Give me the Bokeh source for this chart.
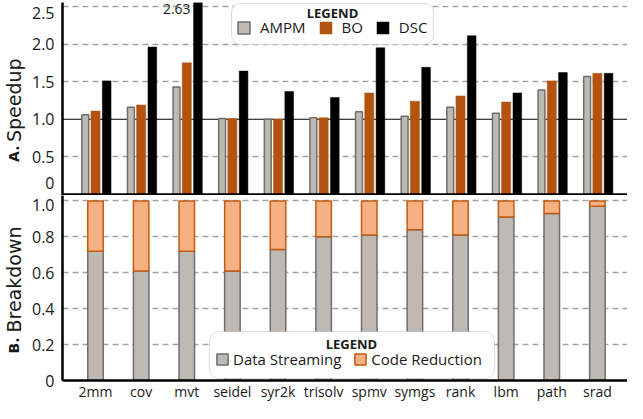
import numpy as np
from math import pi
from bokeh.plotting import figure
from bokeh.models import (ColumnDataSource, FixedTicker, CustomJSTickFormatter, Span, Label,
                          Legend, LegendItem, BoxAnnotation, Range1d)
from bokeh.layouts import column, row
from bokeh.embed import file_html
from bokeh.resources import INLINE
from bokeh.core.properties import value

# ---------------- data ----------------
categories = ["2mm", "cov", "mvt", "seidel", "syr2k", "trisolv", "spmv", "symgs", "rank", "lbm", "path", "srad"]
ampm = [1.06, 1.16, 1.43, 1.01, 1.00, 1.02, 1.10, 1.04, 1.16, 1.08, 1.39, 1.57]
bo = [1.11, 1.19, 1.75, 1.01, 1.00, 1.02, 1.35, 1.24, 1.31, 1.23, 1.51, 1.61]
dsc = [1.51, 1.96, 2.63, 1.64, 1.37, 1.29, 1.95, 1.69, 2.11, 1.35, 1.62, 1.61]
data_streaming = [0.72, 0.61, 0.72, 0.61, 0.73, 0.80, 0.81, 0.84, 0.81, 0.91, 0.93, 0.97]
code_reduction = [0.28, 0.39, 0.28, 0.39, 0.27, 0.20, 0.19, 0.16, 0.19, 0.09, 0.07, 0.03]
speedup_ticks = [0, 0.5, 1.0, 1.5, 2.0, 2.5]
speedup_tick_labels = ["0", "0.5", "1.0", "1.5", "2.0", "2.5"]
breakdown_ticks = [0, 0.2, 0.4, 0.6, 0.8, 1.0]
breakdown_tick_labels = ["0", "0.2", "0.4", "0.6", "0.8", "1.0"]

# ---------------- style ----------------
FONT = "Open Sans"
LFONT = "DejaVu Sans"
GRAY = "#bfb9b4"
GRAY_LINE = "#6e6e6e"
BO_C = "#b4530f"
DSC_C = "#000000"
CR_FILL = "#f4b183"
CR_LINE = "#c55a11"
GRID = "#a3a3a3"
TXT = "#1a1a1a"

n = len(categories)
idx = np.arange(n)
XR = (-0.724, 11.66)
TOP_MAX = 2.552
BOT_MAX = 1.03
TW = 28          # width of the strip holding the vertical panel titles
W = 627 - TW
BL = 34          # left border (tick labels) of each panel


def make_formatter(pos, labels):
    return CustomJSTickFormatter(args=dict(pos=pos, lab=labels), code="""
        for (let i = 0; i < pos.length; i++) {
            if (Math.abs(tick - pos[i]) < 1e-6) return lab[i];
        }
        return '';
    """)


def style_y(p, label_pos, labels, grid_ticks):
    ax = p.yaxis[0]
    ax.ticker = FixedTicker(ticks=label_pos)
    ax.formatter = make_formatter(label_pos, labels)
    ax.axis_line_width = 2.5
    ax.axis_line_color = "black"
    ax.major_tick_out = 0
    ax.major_tick_in = 0
    ax.minor_tick_out = 0
    ax.minor_tick_in = 0
    ax.major_label_standoff = 8
    ax.major_label_text_font = FONT
    ax.major_label_text_font_size = "16px"
    ax.major_label_text_color = TXT
    p.ygrid.ticker = FixedTicker(ticks=grid_ticks)
    p.ygrid.grid_line_color = GRID
    p.ygrid.grid_line_dash = "6 4"
    p.ygrid.grid_line_width = 1.5
    p.xgrid.visible = False
    p.outline_line_color = None


# ---------------- top panel: speedup ----------------
p1 = figure(width=W, height=195, x_range=Range1d(*XR), y_range=Range1d(-0.0133, TOP_MAX),
            output_backend="svg", toolbar_location=None, x_axis_location=None,
            min_border_left=BL, min_border_right=0, min_border_top=2, min_border_bottom=0)
# the end labels sit just inside the panel, as in the original chart
top_label_pos = [t + (0.15 if t == speedup_ticks[0] else 0) - (0.093 if t == speedup_ticks[-1] else 0)
                 for t in speedup_ticks]
style_y(p1, top_label_pos, speedup_tick_labels, [t for t in speedup_ticks if t not in (0, 1.0)])
p1.add_layout(Span(location=1.0, dimension="width", line_color="black", line_width=1, level="underlay"))

src1 = ColumnDataSource(dict(x_a=idx - 0.225, x_b=idx + 0.0, x_d=idx + 0.245, ampm=ampm, bo=bo, dsc=dsc))
r_a = p1.vbar(x="x_a", top="ampm", bottom=0, width=0.15, fill_color=GRAY, line_color=GRAY_LINE,
              line_width=1.5, source=src1)
r_b = p1.vbar(x="x_b", top="bo", bottom=0, width=0.2, fill_color=BO_C, line_color=BO_C,
              line_width=0.5, source=src1)
r_d = p1.vbar(x="x_d", top="dsc", bottom=0, width=0.19, fill_color=DSC_C, line_color=DSC_C,
              line_width=0.5, source=src1)
p1.add_layout(Span(location=0, dimension="width", line_color="black", line_width=2.5))

# value labels for bars clipped by the axis range
clip_x = [i + 0.245 - 0.095 for i, v in enumerate(dsc) if v > TOP_MAX]
clip_t = [f"{v:.2f}" for v in dsc if v > TOP_MAX]
p1.text(x=clip_x, y=[TOP_MAX] * len(clip_x), text=clip_t, text_align="right", text_baseline="top",
        x_offset=-3, y_offset=1, text_font=value(FONT), text_font_size="14px", text_color=TXT)

# legend (top)
p1.add_layout(BoxAnnotation(left=2.98, right=7.408, top=TOP_MAX - 0.012, bottom=1.995,
                            fill_color="white", fill_alpha=1, line_color="#8a8a8a", line_width=1,
                            border_radius=9))
leg1 = Legend(items=[LegendItem(label="AMPM", renderers=[r_a]),
                     LegendItem(label="BO", renderers=[r_b]),
                     LegendItem(label="DSC", renderers=[r_d])],
              location=(174, 158), orientation="horizontal", padding=0, margin=0, spacing=12,
              glyph_width=15, glyph_height=15, label_height=15, label_standoff=9,
              label_text_font=FONT, label_text_font_size="15px", label_text_color=TXT,
              border_line_alpha=0, background_fill_alpha=0)
p1.add_layout(leg1)
p1.add_layout(Label(x=5.194, y=2.406, text="LEGEND", text_align="center", text_baseline="middle",
                    text_font=FONT, text_font_size="13px", text_font_style="bold", text_color=TXT))

# ---------------- bottom panel: breakdown ----------------
p2 = figure(width=W, height=208, x_range=Range1d(*XR), y_range=Range1d(0, BOT_MAX),
            output_backend="svg", toolbar_location=None,
            min_border_left=BL, min_border_right=0, min_border_top=0, min_border_bottom=19)
bot_label_pos = [t - (0.025 if t == breakdown_ticks[-1] else 0) for t in breakdown_ticks]
style_y(p2, bot_label_pos, breakdown_tick_labels, [t for t in breakdown_ticks if t != 0])

cr_top = [a + b for a, b in zip(data_streaming, code_reduction)]
src2 = ColumnDataSource(dict(x=idx, ds=data_streaming, cr=cr_top))
r_ds = p2.vbar(x="x", bottom=0, top="ds", width=0.34, fill_color=GRAY, line_color=GRAY_LINE,
               line_width=1.5, source=src2)
r_cr = p2.vbar(x="x", bottom="ds", top="cr", width=0.34, fill_color=CR_FILL, line_color=CR_LINE,
               line_width=1.5, source=src2)

xa = p2.xaxis[0]
xa.ticker = FixedTicker(ticks=list(range(n)))
xa.major_label_overrides = {i: c for i, c in enumerate(categories)}
xa.axis_line_width = 2.5
xa.axis_line_color = "black"
xa.major_tick_out = 0
xa.major_tick_in = 0
xa.minor_tick_out = 0
xa.minor_tick_in = 0
xa.major_label_standoff = 1
xa.major_label_text_font = FONT
xa.major_label_text_font_size = "14px"
xa.major_label_text_color = TXT

# legend (bottom)
p2.add_layout(BoxAnnotation(left=2.498, right=8.745, top=0.273, bottom=0.0105,
                            fill_color="white", fill_alpha=1, line_color="#8a8a8a", line_width=1,
                            border_radius=10))
leg2 = Legend(items=[LegendItem(label="Data Streaming", renderers=[r_ds]),
                     LegendItem(label="Code Reduction", renderers=[r_cr])],
              location=(153, 11), orientation="horizontal", padding=0, margin=0, spacing=12,
              glyph_width=14, glyph_height=14, label_height=14, label_standoff=4,
              label_text_font=FONT, label_text_font_size="15px", label_text_color=TXT,
              border_line_alpha=0, background_fill_alpha=0)
p2.add_layout(leg2)
p2.add_layout(Label(x=5.61, y=0.202, text="LEGEND", text_align="center", text_baseline="middle",
                    text_font=FONT, text_font_size="13px", text_font_style="bold", text_color=TXT))

# ---------------- strip with the vertical panel titles ----------------
pt = figure(width=TW, height=403, x_range=Range1d(0, TW), y_range=Range1d(0, 403),
            output_backend="svg", toolbar_location=None, x_axis_location=None, y_axis_location=None,
            min_border_left=0, min_border_right=0, min_border_top=0, min_border_bottom=0)
pt.outline_line_color = None
pt.xgrid.visible = False
pt.ygrid.visible = False


def vtitle(prefix, name, y0, y1):
    pt.add_layout(Label(x=13, y=y0, text=prefix, angle=pi / 2, text_align="left",
                        text_baseline="alphabetic", text_font=LFONT, text_font_size="14px",
                        text_font_style="bold", text_color=TXT))
    pt.add_layout(Label(x=13, y=y1, text=name, angle=pi / 2, text_align="left",
                        text_baseline="alphabetic", text_font=LFONT, text_font_size="19px",
                        text_color=TXT))


vtitle("A.", "Speedup", 241.6, 261.4)
vtitle("B.", "Breakdown", 50, 71)

layout = row(pt, column(p1, p2, spacing=0), spacing=0)
open("out.html", "w").write(file_html(layout, INLINE))
